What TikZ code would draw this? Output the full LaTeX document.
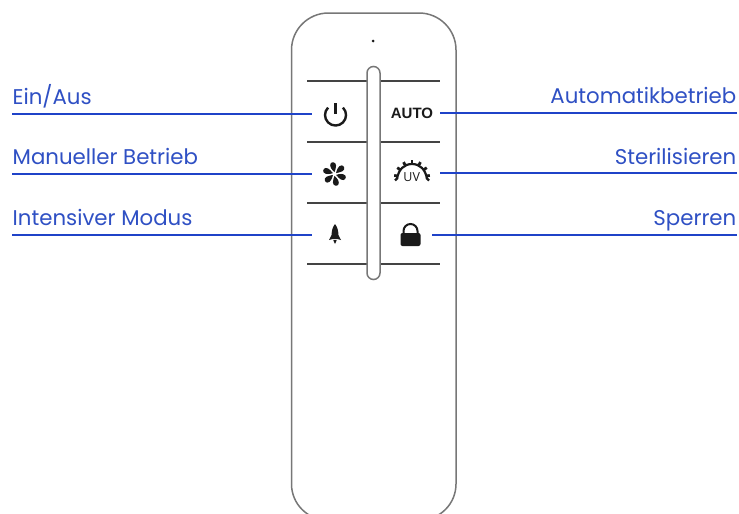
\documentclass[tikz,border=0pt]{standalone}
\usepackage{fontspec}
\usetikzlibrary{calc}
\setmainfont{Poppins}
\newfontfamily\autofont{Liberation Sans}
\newfontfamily\uvfont{Open Sans}
\definecolor{leader}{HTML}{1F43C8}
\definecolor{labelblue}{HTML}{2F50C4}
\definecolor{shell}{HTML}{777777}
\definecolor{ink}{HTML}{1A1A1A}
\definecolor{rule}{HTML}{444444}
\tikzset{
  labeltext/.style={text=labelblue,font=\fontsize{21.3}{24}\selectfont,inner sep=0pt},
  leaderline/.style={draw=leader,line width=2pt},
  divider/.style={draw=rule,line width=1.4pt},
  iconbox/.style={inner sep=0pt,minimum height=20pt},
  shellline/.style={draw=shell,line width=1.5pt,fill=white},
  fanblade/.pic={\fill[ink] (0,-1.8) .. controls (-2,-3.5) and (-5.6,-7.5) .. (-3.9,-10.6) .. controls (-2.4,-12.6) and (1.4,-12) .. (1.6,-8.4) .. controls (1.6,-6.4) and (0.7,-4) .. (0,-1.8) -- cycle;},
}
\begin{document}
\begin{tikzpicture}[x=1pt,y=-1pt]
\useasboundingbox (0,0) rectangle (739,514);
\fill[white] (0,0) rectangle (739,514);
\begin{scope}
\clip (0,0) rectangle (739,514);
\draw[shellline] (291.5,50) arc[start angle=180,end angle=270,radius=37] -- (419,13) arc[start angle=270,end angle=360,radius=37] -- (456,484) arc[start angle=0,end angle=90,radius=36] -- (327.5,520) arc[start angle=90,end angle=180,radius=36] -- cycle;
\end{scope}
\fill[ink] (373,41) circle (1.5);
% dividers
\foreach \yy in {81,142,203,264}{
  \draw[divider] (307,\yy) -- (440,\yy);
}
\draw[draw=shell,line width=1.5pt,fill=white] (367,73) arc[start angle=180,end angle=360,radius=6.5] -- (380,273) arc[start angle=0,end angle=180,radius=6.5] -- cycle;
% icon anchors
\node[iconbox,minimum width=46pt] (power) at (335,114) {};
\node[iconbox,minimum width=46pt] (fan) at (335,174) {};
\node[iconbox,minimum width=46pt] (rocket) at (335,235) {};
\node[iconbox,minimum width=56pt,text=ink,font=\autofont\bfseries\fontsize{15}{16}\selectfont] (auto) at (412,113.5) {AUTO};
\node[iconbox,minimum width=56pt] (uv) at (412,173) {};
\node[iconbox,minimum width=42pt] (lock) at (411,235) {};
% power icon
\draw[ink,line width=2.4pt] (328.1,107.6) arc[start angle=-135,delta angle=-270,radius=10.5];
\draw[ink,line width=2.4pt] (335.5,103) -- (335.5,114);
% fan icon
\foreach \aa in {0,60,120,180,240,300}{
  \pic[rotate=\aa] at (334.5,174) {fanblade};
}
% uv icon
\draw[ink,line width=2.2pt] (397,179) .. controls (398.5,169) and (404.5,164) .. (412,164) .. controls (419.5,164) and (425.5,169) .. (427,179);
\foreach \aa in {-172,-145,-118,-90,-62,-35,-8}{
  \draw[ink,line width=2.8pt] ($(412,178)+(\aa:14.5)$) -- ($(412,178)+(\aa:18)$);
}
\draw[ink,line width=2.2pt] (397.5,178) -- (395,180.5) (426.5,178) -- (429,180.5);
\node[text=ink,inner sep=0pt,font=\uvfont\fontsize{12.5}{13}\selectfont] at (411.7,177.2) {UV};
% rocket icon
\fill[ink] (335,224) .. controls (332.5,227) and (331.6,231) .. (331.6,235) -- (329,240) .. controls (331,239.2) and (333,239) .. (335,239) .. controls (337,239) and (339,239.2) .. (341,240) -- (338.4,235) .. controls (338.4,231) and (337.5,227) .. (335,224) -- cycle;
\fill[ink] (333.3,240.2) -- (336.7,240.2) -- (335,244) -- cycle;
% lock icon
\draw[ink,line width=2pt] (403.5,233) -- (403.5,231) arc[start angle=180,end angle=360,radius=7] -- (417.5,233);
\fill[ink,rounded corners=2pt] (400.5,233) rectangle (420.5,246);
% labels and leaders
\coordinate (la) at (12,114);
\coordinate (lb) at (12,174);
\coordinate (lc) at (12,235);
\coordinate (ra) at (737,113);
\coordinate (rb) at (737,173);
\coordinate (rc) at (737,235);
\node[labeltext,anchor=base west] (t1) at (12.5,104) {Ein/Aus};
\node[labeltext,anchor=base west] (t2) at (12.5,164) {Manueller Betrieb};
\node[labeltext,anchor=base west] (t3) at (12.5,225) {Intensiver Modus};
\node[labeltext,anchor=base east] (t4) at (736.5,103.5) {Automatikbetrieb};
\node[labeltext,anchor=base east] (t5) at (736.5,164) {Sterilisieren};
\node[labeltext,anchor=base east] (t6) at (736.5,225) {Sperren};
\draw[leaderline] (la) -- (power.west);
\draw[leaderline] (lb) -- (fan.west);
\draw[leaderline] (lc) -- (rocket.west);
\draw[leaderline] (ra) -- (auto.east |- ra);
\draw[leaderline] (rb) -- (uv.east |- rb);
\draw[leaderline] (rc) -- (lock.east |- rc);
\end{tikzpicture}
\end{document}
